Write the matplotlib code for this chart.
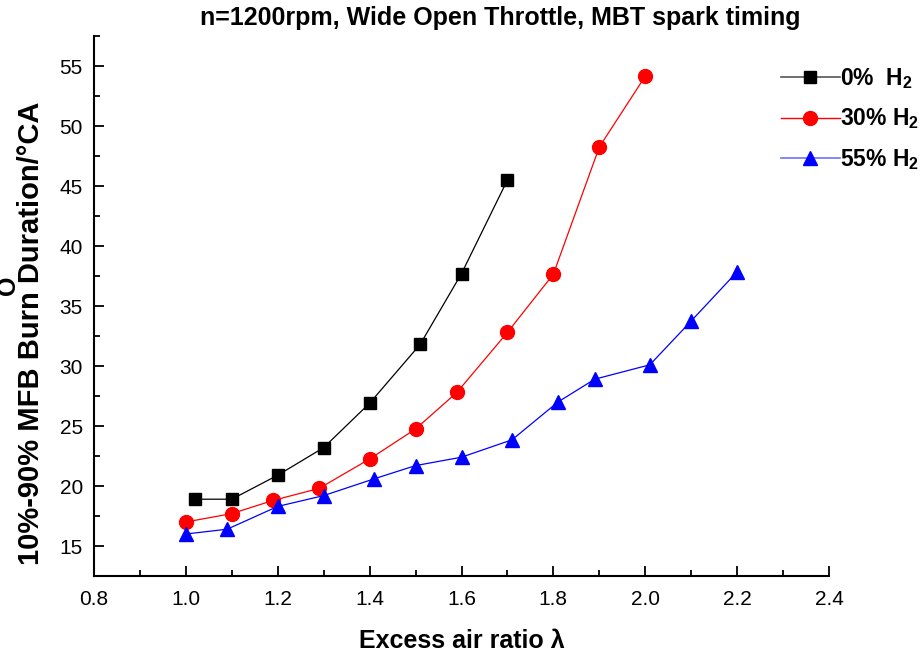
import matplotlib
matplotlib.use("Agg")
import matplotlib.pyplot as plt

plt.rcParams['font.family'] = ['Liberation Sans', 'DejaVu Sans']
plt.rcParams['mathtext.fontset'] = 'custom'
plt.rcParams['mathtext.rm'] = 'Liberation Sans:bold'
plt.rcParams['mathtext.bf'] = 'Liberation Sans:bold'
plt.rcParams['mathtext.default'] = 'bf'

x0 = [1.02, 1.10, 1.20, 1.30, 1.40, 1.51, 1.60, 1.70]
y0 = [18.9, 18.9, 20.9, 23.2, 26.9, 31.8, 37.7, 45.5]

x30 = [1.00, 1.10, 1.19, 1.29, 1.40, 1.50, 1.59, 1.70, 1.80, 1.90, 2.00]
y30 = [17.0, 17.7, 18.8, 19.8, 22.25, 24.75, 27.8, 32.8, 37.65, 48.25, 54.15]

x55 = [1.00, 1.09, 1.20, 1.30, 1.41, 1.50, 1.60, 1.71, 1.81, 1.89, 2.01, 2.10, 2.20]
y55 = [16.0, 16.4, 18.3, 19.2, 20.6, 21.7, 22.4, 23.85, 27.0, 28.9, 30.1, 33.75, 37.85]

labels = ['0%  H$_2$', '30% H$_2$', '55% H$_2$']
xticks = [0.8, 1.0, 1.2, 1.4, 1.6, 1.8, 2.0, 2.2, 2.4]
yticks = [15, 20, 25, 30, 35, 40, 45, 50, 55]

fig = plt.figure(figsize=(9.24, 6.56), dpi=100)
ax = fig.add_axes([94/924, 1-576/656, (829-94)/924, (576-36)/656])

ax.plot(x0, y0, color='black', lw=0.9, marker='s', ms=8.5, mfc='black', mec='black')
ax.plot(x30, y30, color='red', lw=0.9, marker='o', ms=10, mfc='red', mec='red')
ax.plot(x55, y55, color='blue', lw=0.9, marker='^', ms=10.5, mfc='blue', mec='blue')

ax.set_xlim(0.8, 2.4)
ax.set_ylim(12.5, 57.5)
ax.set_xticks(xticks)
ax.set_xticklabels([f'{v:.1f}' for v in xticks])
ax.set_yticks(yticks)
ax.set_xticks([0.9, 1.1, 1.3, 1.5, 1.7, 1.9, 2.1, 2.3], minor=True)
ax.set_yticks([12.5, 17.5, 22.5, 27.5, 32.5, 37.5, 42.5, 47.5, 52.5, 57.5], minor=True)
ax.tick_params(which='major', direction='in', length=7, width=1.3, labelsize=15, pad=10)
ax.tick_params(which='minor', direction='in', length=4, width=1.3)
ax.tick_params(axis='y', which='major', pad=8)
for s in ['top', 'right']:
    ax.spines[s].set_visible(False)
for s in ['left', 'bottom']:
    ax.spines[s].set_linewidth(1.5)

# legend
from matplotlib.lines import Line2D
handles = [
    Line2D([], [], color='#555555', lw=1.2, marker='s', ms=8.5, mfc='black', mec='black'),
    Line2D([], [], color='red', lw=1.0, marker='o', ms=10, mfc='red', mec='red'),
    Line2D([], [], color='#7070ff', lw=1.2, marker='^', ms=10.5, mfc='blue', mec='blue'),
]
leg = fig.legend(handles, labels, loc='upper left', bbox_to_anchor=(760/924, 1-45/656),
                 frameon=False, handlelength=2.6, handletextpad=0.0, labelspacing=0.7,
                 prop={'weight': 'bold', 'size': 16.5})

fig.text(500/924, 1-18/656, 'n=1200rpm, Wide Open Throttle, MBT spark timing',
         ha='center', va='center', fontsize=18, fontweight='bold')
fig.text(462/924, 1-641/656, 'Excess air ratio λ', ha='center', va='center',
         fontsize=18, fontweight='bold')
fig.text(31/924, 1-333/656, '10%-90% MFB Burn Duration/°CA', ha='center', va='center',
         rotation=90, fontsize=21, fontweight='bold')
fig.text(8/924, 1-285/656, 'O', ha='center', va='center', rotation=90,
         fontsize=18, fontweight='bold')

fig.savefig('out.png', dpi=100)
